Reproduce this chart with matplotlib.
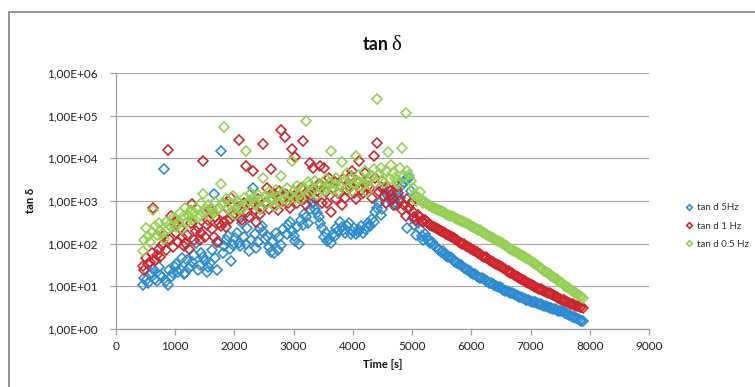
import matplotlib
matplotlib.use("Agg")
import matplotlib.pyplot as plt
from matplotlib.ticker import FixedLocator, FuncFormatter, NullLocator
from matplotlib.patches import Rectangle

# Measurement times [s]
time_s = [
    450, 480, 510, 540, 570, 600, 630, 660, 690, 720,
    750, 780, 810, 840, 870, 900, 930, 960, 990, 1020,
    1050, 1080, 1110, 1140, 1170, 1200, 1230, 1260, 1290, 1320,
    1350, 1380, 1410, 1440, 1470, 1500, 1530, 1560, 1590, 1620,
    1650, 1680, 1710, 1740, 1770, 1800, 1830, 1860, 1890, 1920,
    1950, 1980, 2010, 2040, 2070, 2100, 2130, 2160, 2190, 2220,
    2250, 2280, 2310, 2340, 2370, 2400, 2430, 2460, 2490, 2520,
    2550, 2580, 2610, 2640, 2670, 2700, 2730, 2760, 2790, 2820,
    2850, 2880, 2910, 2940, 2970, 3000, 3030, 3060, 3090, 3120,
    3150, 3180, 3210, 3240, 3270, 3300, 3330, 3360, 3390, 3420,
    3450, 3480, 3510, 3540, 3570, 3600, 3630, 3660, 3690, 3720,
    3750, 3780, 3810, 3840, 3870, 3900, 3930, 3960, 3990, 4020,
    4050, 4080, 4110, 4140, 4170, 4200, 4230, 4260, 4290, 4320,
    4350, 4380, 4410, 4440, 4470, 4500, 4530, 4560, 4590, 4620,
    4650, 4680, 4710, 4740, 4770, 4800, 4830, 4860, 4890, 4920,
    4950, 4980, 5010, 5040, 5070, 5100, 5130, 5160, 5190, 5220,
    5250, 5280, 5310, 5340, 5370, 5400, 5430, 5460, 5490, 5520,
    5550, 5580, 5610, 5640, 5670, 5700, 5730, 5760, 5790, 5820,
    5850, 5880, 5910, 5940, 5970, 6000, 6030, 6060, 6090, 6120,
    6150, 6180, 6210, 6240, 6270, 6300, 6330, 6360, 6390, 6420,
    6450, 6480, 6510, 6540, 6570, 6600, 6630, 6660, 6690, 6720,
    6750, 6780, 6810, 6840, 6870, 6900, 6930, 6960, 6990, 7020,
    7050, 7080, 7110, 7140, 7170, 7200, 7230, 7260, 7290, 7320,
    7350, 7380, 7410, 7440, 7470, 7500, 7530, 7560, 7590, 7620,
    7650, 7680, 7710, 7740, 7770, 7800, 7830, 7860, 7890,
]

tan_d_5hz = [
    11, 16, 14, 12, 19, 21, 25, 15, 13, 28,
    18, 17, 5500, 13, 11, 24, 17, 20, 29, 33,
    22, 26, 46, 19, 21, 42, 27, 30, 38, 55,
    104, 24, 31, 62, 48, 40, 22, 28, 35, 70,
    1480, 45, 24, 110, 14500, 60, 87, 120, 150, 75,
    40, 95, 135, 180, 105, 90, 310, 140, 100, 230,
    66, 120, 2050, 170, 80, 110, 230, 260, 190, 130,
    150, 85, 65, 110, 60, 180, 72, 140, 95, 220,
    1440, 170, 280, 330, 200, 150, 115, 240, 100, 350,
    280, 500, 420, 300, 650, 1100, 900, 650, 520, 420,
    300, 230, 140, 180, 115, 130, 105, 170, 150, 230,
    200, 320, 240, 210, 180, 260, 300, 170, 200, 230,
    170, 190, 210, 260, 180, 220, 240, 300, 260, 380,
    320, 550, 700, 900, 480, 650, 2000, 1500, 1300, 1100,
    1000, 800, 950, 1800, 1300, 1200, 2400, 2800, 3200, 230,
    3500, 1700, 400, 280, 160, 300, 220, 150, 125, 170,
    135, 115, 105, 110, 95, 82, 76, 72, 64, 66,
    58, 52, 50, 49, 46, 40, 38, 36, 33, 32,
    29.5, 26.5, 25, 24.5, 22.4, 20.5, 19, 19.2, 17.8, 16.2,
    15.8, 15.5, 14.5, 13.6, 13.4, 12.2, 11.7, 11.4, 10.7, 10.0,
    9.8, 9.5, 8.9, 8.2, 7.8, 7.8, 7.4, 7.0, 6.8, 6.6,
    6.2, 5.9, 5.75, 5.6, 5.4, 5.1, 4.9, 4.75, 4.57, 4.35,
    4.27, 4.2, 4.07, 3.85, 3.8, 3.6, 3.45, 3.4, 3.3, 3.15,
    3.1, 2.95, 2.9, 2.8, 2.7, 2.65, 2.6, 2.45, 2.35, 2.25,
    2.15, 2.05, 1.95, 1.9, 1.82, 1.72, 1.66, 1.58, 1.5,
]

tan_d_1hz = [
    30, 24, 46, 33, 38, 60, 690, 42, 55, 75,
    50, 95, 160, 70, 15500, 130, 440, 85, 300, 180,
    110, 230, 140, 90, 105, 160, 75, 300, 830, 120,
    200, 250, 120, 180, 8700, 140, 280, 350, 600, 220,
    140, 420, 110, 300, 260, 500, 330, 240, 1000, 380,
    1200, 450, 500, 700, 26800, 400, 350, 900, 6600, 550,
    420, 800, 5100, 600, 330, 1100, 500, 700, 21600, 900,
    2000, 650, 5500, 1200, 1450, 800, 600, 1700, 46000, 1000,
    32000, 1400, 900, 700, 16400, 1300, 10500, 900, 1200, 2000,
    26000, 1100, 800, 1500, 7900, 1800, 6000, 1200, 1700, 2500,
    6500, 900, 5800, 1600, 900, 3500, 550, 2000, 2800, 1100,
    1500, 2400, 800, 3200, 1200, 1800, 2200, 3800, 5000, 1500,
    1100, 2600, 8700, 1800, 1500, 4500, 3000, 2200, 2000, 1200,
    11500, 3400, 23500, 1600, 2100, 3000, 1300, 900, 2000, 1700,
    1400, 1100, 800, 2200, 1500, 1000, 600, 800, 450, 1100,
    700, 900, 560, 430, 355, 480, 420, 340, 316, 360,
    316, 290, 275, 265, 245, 236, 224, 205, 200, 190,
    178, 172, 158, 152, 141, 136, 126, 121, 112, 104,
    100, 96, 89, 82, 79, 76, 71, 66, 63, 60,
    56, 52, 50, 48, 45, 42, 40, 37, 35.5, 34,
    31.6, 29.5, 28.2, 26.5, 25, 23.5, 22.4, 21, 20, 18.6,
    17.8, 16.9, 15.8, 14.6, 14.1, 13.5, 12.6, 11.8, 11.2, 10.8,
    10.2, 9.6, 9.3, 8.8, 8.5, 8.0, 7.8, 7.3, 7.1, 6.8,
    6.5, 6.1, 5.9, 5.7, 5.4, 5.1, 4.9, 4.7, 4.5, 4.3,
    4.1, 3.95, 3.8, 3.65, 3.55, 3.4, 3.3, 3.2, 3.1,
]

tan_d_05hz = [
    66, 120, 234, 150, 110, 190, 600, 260, 160, 300,
    200, 170, 130, 330, 220, 280, 250, 400, 380, 240,
    300, 520, 220, 450, 700, 330, 450, 600, 350, 520,
    700, 400, 480, 900, 1440, 550, 630, 800, 450, 650,
    520, 950, 600, 700, 2450, 900, 53000, 1100, 700, 800,
    550, 1300, 480, 1000, 900, 700, 650, 1200, 15000, 850,
    1000, 1500, 1200, 900, 800, 1400, 650, 1100, 3500, 1300,
    900, 1600, 1200, 1000, 750, 1800, 1300, 900, 3900, 1500,
    1100, 2000, 1000, 1400, 8700, 1700, 1200, 2200, 1400, 1100,
    2000, 1800, 76000, 2800, 2500, 1500, 1800, 3000, 1400, 2300,
    2200, 1900, 1700, 3200, 2000, 2600, 15000, 1800, 2500, 3500,
    1600, 2200, 8000, 2700, 3000, 4500, 2000, 3300, 1700, 2500,
    11500, 3000, 4000, 2200, 2500, 5000, 1600, 2800, 3200, 3800,
    5500, 2700, 246000, 4200, 6000, 3100, 2600, 5000, 14400, 3300,
    7000, 4500, 3500, 2800, 2500, 6000, 17400, 3800, 113000, 5000,
    4000, 3000, 2000, 1400, 1000, 1250, 1600, 1050, 890, 950,
    830, 800, 760, 720, 690, 660, 630, 600, 575, 545,
    525, 500, 480, 455, 435, 415, 400, 380, 363, 345,
    331, 315, 302, 288, 275, 262, 251, 236, 224, 214,
    204, 192, 182, 172, 162, 153, 145, 136, 129, 121,
    115, 108, 102, 96, 91, 86, 81, 76, 72, 68,
    65, 61, 58, 54, 51, 48.5, 46, 43, 41, 38,
    35.5, 33, 31, 29, 27, 25, 23.4, 22, 20.4, 19,
    17.8, 16.6, 15.5, 14.5, 13.5, 12.6, 11.7, 10.9, 10.2, 9.5,
    8.9, 8.3, 7.8, 7.3, 6.8, 6.3, 5.9, 5.5, 5.2,
]

series_labels = ["tan d 5Hz", "tan d 1 Hz", "tan d 0.5 Hz"]
series_colors = ["#2b8bd2", "#d0222b", "#93d052"]

x_ticks = [0, 1000, 2000, 3000, 4000, 5000, 6000, 7000, 8000, 9000]
y_ticks = [1e0, 1e1, 1e2, 1e3, 1e4, 1e5, 1e6]

W, H = 755, 387
plt.rcParams["font.family"] = ["Lato", "DejaVu Sans"]

fig = plt.figure(figsize=(W / 100, H / 100), dpi=100)
fig.patch.set_facecolor("white")

# chart-area frame
fig.patches.append(Rectangle((9 / W, -0.2), 1.5, 1.2 - 12 / H,
                             transform=fig.transFigure, fill=False,
                             edgecolor="#8a8a8a", linewidth=1.3))

ax = fig.add_axes([116 / W, 1 - 329 / H, (649 - 116) / W, (329 - 73) / H])

for vals, col, lab in zip([tan_d_5hz, tan_d_1hz, tan_d_05hz], series_colors, series_labels):
    ax.plot(time_s, vals, linestyle="none", marker="D", markersize=4.7,
            markerfacecolor="none", markeredgecolor=col, markeredgewidth=1.15,
            label=lab)

ax.set_yscale("log")
ax.set_xlim(0, 9000)
ax.set_ylim(1, 1e6)
ax.xaxis.set_major_locator(FixedLocator(x_ticks))
ax.yaxis.set_major_locator(FixedLocator(y_ticks))
ax.yaxis.set_minor_locator(NullLocator())
ax.yaxis.set_major_formatter(FuncFormatter(lambda v, _: f"{v:.2E}".replace(".", ",")))

ax.grid(axis="y", color="#ababab", linewidth=0.9)
ax.set_axisbelow(True)
for s in ("top", "right"):
    ax.spines[s].set_visible(False)
for s in ("left", "bottom"):
    ax.spines[s].set_color("#a0a0a0")
    ax.spines[s].set_linewidth(0.9)
ax.tick_params(direction="out", length=4, width=0.9, color="#a0a0a0",
               labelsize=8.5, labelcolor="#222222")
ax.tick_params(axis="y", pad=9)
ax.tick_params(axis="x", pad=5)

# title: bold "tan" followed by a serif delta
fig.text(389 / W, 1 - 50 / H, "tan", ha="right", va="baseline",
         fontsize=13, fontweight="bold", color="#111111")
fig.text(391 / W, 1 - 50 / H, "δ", ha="left", va="baseline",
         fontsize=15, family=["Liberation Serif", "DejaVu Serif"], color="#111111")

fig.text(383 / W, 1 - 364 / H, "Time [s]", ha="center", va="center",
         fontsize=8, fontweight="bold", color="#111111")
fig.text(30 / W, 1 - 200 / H, "tan δ", ha="center", va="center", rotation=90,
         fontsize=8, fontweight="bold", color="#111111")

ax.legend(loc="center left", bbox_to_anchor=(682 / W, 1 - 226 / H),
          bbox_transform=fig.transFigure, frameon=False, fontsize=7,
          handlelength=0.7, handletextpad=0.4, labelspacing=0.95,
          markerscale=0.62, labelcolor="#333333", borderaxespad=0)

fig.savefig("out.png", dpi=100)
